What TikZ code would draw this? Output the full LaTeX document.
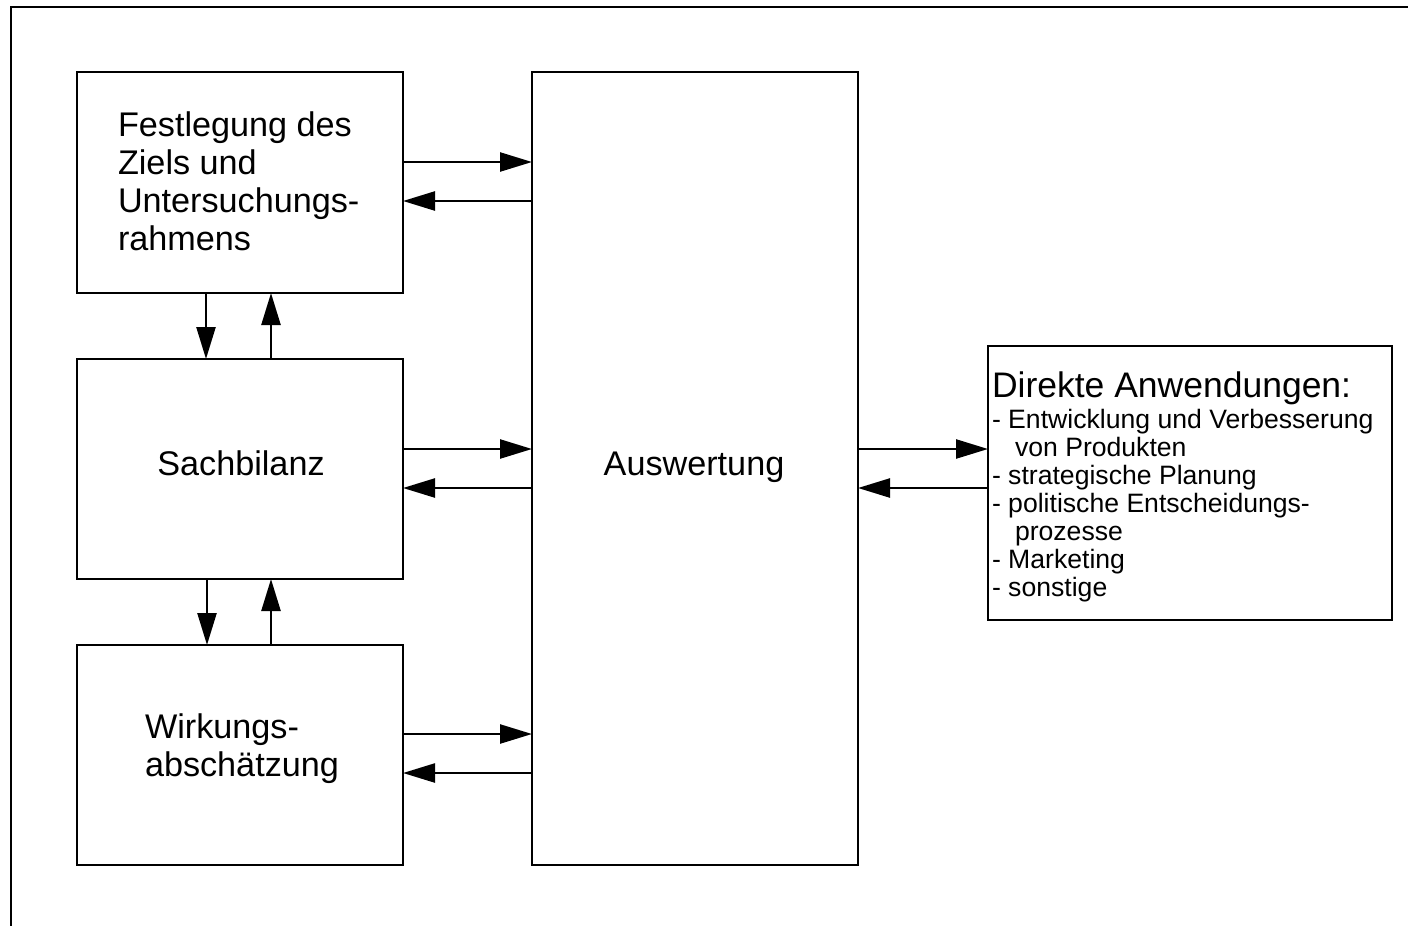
\documentclass[tikz,border=0pt]{standalone}
\usepackage{fontspec}
\setmainfont{Liberation Sans}
\usetikzlibrary{arrows.meta}
\begin{document}
\begin{tikzpicture}[x=1pt,y=1pt,
  box/.style={draw, line width=2.4pt, inner sep=0pt, outer sep=0pt},
  arr/.style={line width=2.4pt, -{Triangle[length=32pt,width=19pt]}},
  txt/.style={inner sep=0pt, outer sep=0pt, font=\fontsize{34.2}{38}\selectfont, align=left},
  ltxt/.style={inner sep=0pt, outer sep=0pt, font=\fontsize{26.6}{28}\selectfont, align=left},
  htxt/.style={inner sep=0pt, outer sep=0pt, font=\fontsize{35.5}{40}\selectfont},
  ]
\useasboundingbox (0,0) rectangle (1408,-926);
\coordinate (fa) at (11,-926);
\coordinate (fb) at (11,-7);
\coordinate (fc) at (1408,-7);
\draw[line width=2.4pt] (fa) -- (fb) -- (fc);

\node[box, minimum width=326pt, minimum height=221pt] (b1) at (240,-182.5) {};
\node[box, minimum width=326pt, minimum height=220pt] (b2) at (240,-469) {};
\node[box, minimum width=326pt, minimum height=220pt] (b3) at (240,-755) {};
\node[box, minimum width=326pt, minimum height=793pt] (aw) at (695,-468.5) {};
\node[box, minimum width=404pt, minimum height=274pt] (dr) at (1190,-483) {};

\node[txt, anchor=base west] (t1) at (118,-250) {Festlegung des\\Ziels und\\Untersuchungs-\\rahmens};
\node[txt, anchor=base] (t2) at (241,-475) {Sachbilanz};
\node[txt, anchor=base west] (t3) at (145,-776) {Wirkungs-\\abschätzung};
\node[txt, anchor=base] (t4) at (694,-475) {Auswertung};
\node[htxt, anchor=base west] (dh) at (992,-397) {Direkte Anwendungen:};
\node[ltxt, anchor=base west] (dl) at (992,-596) {- Entwicklung und Verbesserung\\\hspace*{23pt}von Produkten\\- strategische Planung\\- politische Entscheidungs-\\\hspace*{23pt}prozesse\\- Marketing\\- sonstige};

\draw[arr] (b1.east |- 0,-162) -- (aw.west |- 0,-162);
\draw[arr] (aw.west |- 0,-201) -- (b1.east |- 0,-201);
\draw[arr] (b2.east |- 0,-449) -- (aw.west |- 0,-449);
\draw[arr] (aw.west |- 0,-488) -- (b2.east |- 0,-488);
\draw[arr] (b3.east |- 0,-734) -- (aw.west |- 0,-734);
\draw[arr] (aw.west |- 0,-773) -- (b3.east |- 0,-773);
\draw[arr] (aw.east |- 0,-449) -- (dr.west |- 0,-449);
\draw[arr] (dr.west |- 0,-488) -- (aw.east |- 0,-488);

\draw[arr] (b1.south -| 206,0) -- (b2.north -| 206,0);
\draw[arr] (b2.north -| 271,0) -- (b1.south -| 271,0);
\draw[arr] (b2.south -| 207,0) -- (b3.north -| 207,0);
\draw[arr] (b3.north -| 271,0) -- (b2.south -| 271,0);
\end{tikzpicture}
\end{document}
